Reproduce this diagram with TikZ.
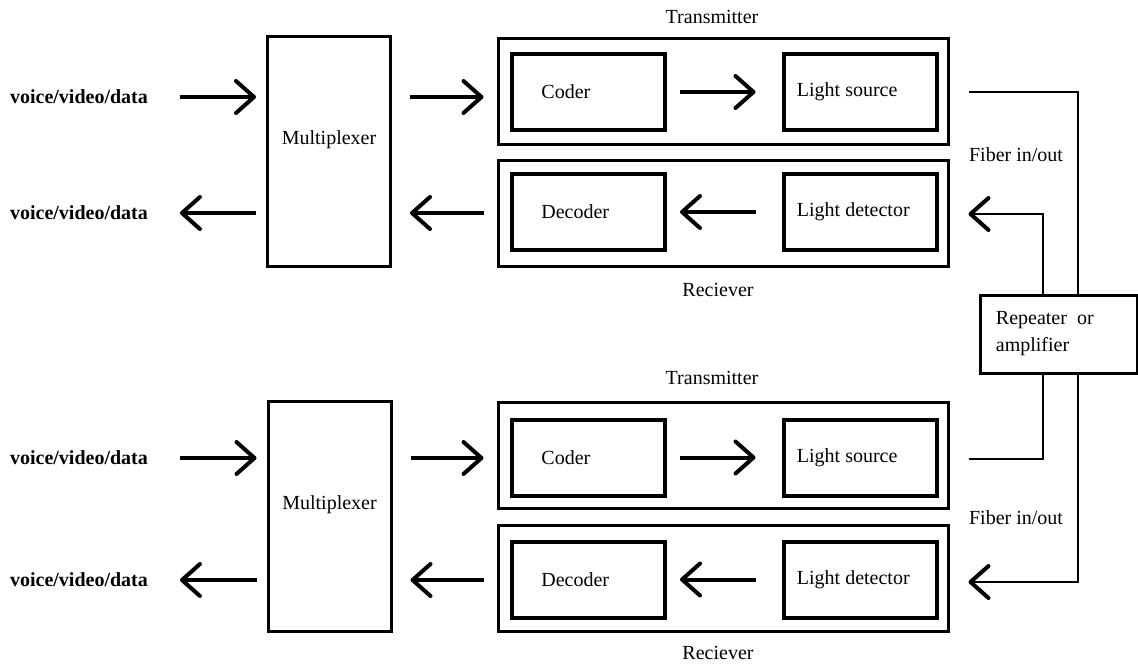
\documentclass[tikz,border=0pt]{standalone}
\usepackage{fontspec}
\setmainfont{Liberation Serif}
\usetikzlibrary{arrows.meta,positioning}

\tikzset{
  box/.style={draw,line width=1.5pt,inner sep=0pt},
  frame/.style={draw,line width=1.5pt,inner sep=0pt,minimum width=225pt,minimum height=53pt},
  blk/.style={draw,line width=2pt,inner sep=0pt,minimum width=76.5pt,minimum height=38pt},
  mux/.style={box,minimum width=61.5pt,minimum height=115pt},
  lbl/.style={inner sep=0pt},
  src/.style={font=\fontsize{10}{12}\selectfont\bfseries},
  flow/.style={line width=2pt,-{Straight Barb[length=9pt,width=16pt,round]}},
  fiber/.style={line width=1.4pt},
  fibarrow/.style={fiber,-{Straight Barb[length=9pt,width=16pt,round,line width=2pt]}},
}

\begin{document}
\begin{tikzpicture}[x=0.5pt,y=-0.5pt,font=\fontsize{10}{13.5}\selectfont]
  \useasboundingbox (0,0) rectangle (1138,664);

  % upper terminal
  \node[src] (inA) at (79,97) {voice/video/data};
  \node[src] (outA) at (79,213) {voice/video/data};
  \node[mux] (muxA) at (329,151) {};
  \node[yshift=5.5pt] at (muxA) {Multiplexer};
  \node[frame] (txA) at (723,91) {};
  \node[frame] (rxA) at (723,213) {};
  \node[blk] (codA) at (588.5,92) {};
  \node[blk] (lsA) at (860,92) {};
  \node[blk] (decA) at (588.5,212) {};
  \node[blk] (ldA) at (860,212) {};
  \node[lbl,anchor=west,xshift=15.5pt] at (codA.west) {Coder};
  \node[lbl,anchor=west,xshift=7.5pt] at (lsA.west) {Light source};
  \node[lbl,anchor=west,xshift=15.5pt] at (decA.west) {Decoder};
  \node[lbl,anchor=west,xshift=7.5pt] at (ldA.west) {Light detector};
  \node (txtA) at (712,17) {Transmitter};
  \node (rxtA) at (718,290) {Reciever};

  \draw[flow,shorten <=12.5pt,shorten >=5pt] (inA.east) -- (muxA.west |- inA);
  \draw[flow,shorten <=5pt,shorten >=12.5pt] (muxA.west |- outA) -- (outA.east);
  \draw[flow,shorten <=9pt,shorten >=6.5pt] (muxA.east |- inA) -- (txA.west |- inA);
  \draw[flow,shorten <=6.5pt,shorten >=9pt] (rxA.west |- outA) -- (muxA.east |- outA);
  \draw[flow,shorten <=6.5pt,shorten >=13pt] (codA.east) -- (lsA.west);
  \draw[flow,shorten <=13pt,shorten >=6.5pt] (ldA.west) -- (decA.east);

  % lower terminal
  \node[src] (inB) at (79,458) {voice/video/data};
  \node[src] (outB) at (79,580) {voice/video/data};
  \node[mux] (muxB) at (329.5,516) {};
  \node[yshift=5.5pt] at (muxB) {Multiplexer};
  \node[frame] (txB) at (723,455) {};
  \node[frame] (rxB) at (723,578.5) {};
  \node[blk] (codB) at (588.5,457.5) {};
  \node[blk] (lsB) at (860,457.5) {};
  \node[blk] (decB) at (588.5,579.5) {};
  \node[blk] (ldB) at (860,579.5) {};
  \node[lbl,anchor=west,xshift=15.5pt] at (codB.west) {Coder};
  \node[lbl,anchor=west,xshift=7.5pt] at (lsB.west) {Light source};
  \node[lbl,anchor=west,xshift=15.5pt] at (decB.west) {Decoder};
  \node[lbl,anchor=west,xshift=7.5pt] at (ldB.west) {Light detector};
  \node (txtB) at (712,378) {Transmitter};
  \node (rxtB) at (718,653) {Reciever};

  \draw[flow,shorten <=12.5pt,shorten >=5pt] (inB.east) -- (muxB.west |- inB);
  \draw[flow,shorten <=5pt,shorten >=12.5pt] (muxB.west |- outB) -- (outB.east);
  \draw[flow,shorten <=9pt,shorten >=6.5pt] (muxB.east |- inB) -- (txB.west |- inB);
  \draw[flow,shorten <=6.5pt,shorten >=9pt] (rxB.west |- outB) -- (muxB.east |- outB);
  \draw[flow,shorten <=6.5pt,shorten >=13pt] (codB.east) -- (lsB.west);
  \draw[flow,shorten <=13pt,shorten >=6.5pt] (ldB.west) -- (decB.east);

  % fiber link and repeater
  \node[box,minimum width=78.5pt,minimum height=39pt] (rep) at (1058.5,334) {};
  \node[lbl,anchor=west,xshift=8.5pt,align=left] at (rep.west) {Repeater\ \ or\\amplifier};
  \node (fibA) at (1016,155) {Fiber in/out};
  \node (fibB) at (1016,518) {Fiber in/out};
  \coordinate (laneI) at (1043,0);
  \coordinate (laneO) at (1078,0);
  \coordinate (fA) at ([xshift=9.5pt]txA.east |- lsA);
  \coordinate (gA) at ([xshift=9.5pt]rxA.east |- 0,214);
  \coordinate (fB) at ([xshift=9.5pt]txB.east |- 0,459);
  \coordinate (gB) at ([xshift=9.5pt]rxB.east |- 0,582);

  \draw[fiber] (fA) -| (laneO |- rep.north);
  \draw[fibarrow] (laneI |- rep.north) |- (gA);
  \draw[fiber] (laneI |- rep.south) |- (fB);
  \draw[fibarrow] (laneO |- rep.south) |- (gB);
\end{tikzpicture}
\end{document}
